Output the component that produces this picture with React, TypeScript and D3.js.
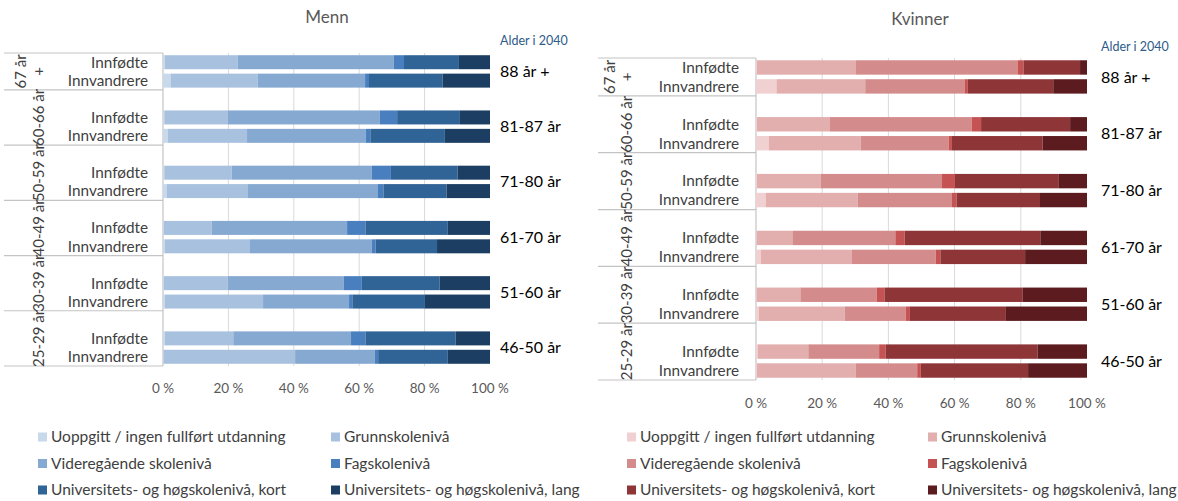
import React from "react";
import * as d3 from "d3";

const categories = [
  "Uoppgitt / ingen fullført utdanning",
  "Grunnskolenivå",
  "Videregående skolenivå",
  "Fagskolenivå",
  "Universitets- og høgskolenivå, kort",
  "Universitets- og høgskolenivå, lang",
];
const ageGroups = [["67 år", "+"], ["60-66 år"], ["50-59 år"], ["40-49 år"], ["30-39 år"], ["25-29 år"]];
const ages2040 = ["88 år +", "81-87 år", "71-80 år", "61-70 år", "51-60 år", "46-50 år"];
const origins = ["Innfødte", "Innvandrere"];
const ticks = [0, 20, 40, 60, 80, 100];

// Menn: per age group, [Innfødte, Innvandrere], each 6 category shares (%)
const menn = [
  [[0.5, 22.4, 47.7, 3.1, 16.8, 9.5], [2.3, 26.7, 32.8, 1.2, 22.5, 14.5]],
  [[0.4, 19.3, 46.6, 5.3, 19.2, 9.2], [1.5, 24.2, 36.3, 1.4, 22.8, 13.8]],
  [[0.4, 20.6, 42.8, 5.9, 20.4, 9.9], [1.1, 24.9, 39.6, 1.8, 19.3, 13.3]],
  [[0.3, 14.6, 41.4, 5.6, 25.2, 12.9], [0.5, 26.1, 37.2, 1.2, 18.8, 16.2]],
  [[0.3, 19.5, 35.5, 5.5, 23.8, 15.4], [0.5, 30.1, 26.3, 1.0, 22.2, 19.9]],
  [[0.5, 21.0, 36.0, 4.4, 27.6, 10.5], [0.2, 40.2, 24.4, 1.0, 21.3, 12.9]],
];
const kvinner = [
  [[0.3, 29.9, 48.8, 1.8, 17.1, 2.1], [6.2, 26.8, 30.0, 1.0, 25.8, 10.2]],
  [[0.3, 21.9, 43.0, 2.8, 26.9, 5.1], [3.9, 27.7, 26.6, 1.0, 27.4, 13.4]],
  [[0.3, 19.2, 36.7, 3.9, 31.4, 8.5], [2.9, 27.8, 28.5, 1.4, 25.2, 14.2]],
  [[0.2, 10.8, 31.1, 2.8, 41.0, 14.1], [1.5, 27.5, 25.3, 1.4, 25.6, 18.7]],
  [[0.2, 13.2, 23.1, 2.3, 41.8, 19.4], [0.9, 25.9, 18.4, 1.3, 29.0, 24.5]],
  [[0.5, 15.3, 21.4, 2.0, 45.9, 14.9], [0.3, 29.8, 18.6, 1.1, 32.4, 17.8]],
];

const blues = ["#c8d9eb", "#a8c1de", "#86a9d1", "#4a7fbf", "#316496", "#1c3e62"];
const reds = ["#f0d0d0", "#e2aeae", "#d48b8b", "#c65353", "#8e3538", "#5c1b1f"];

const FONT = "Lato, 'Open Sans', sans-serif";

type PanelProps = {
  title: string;
  data: number[][][];
  colors: string[];
  boxX: number;
  x0: number;
  x1: number;
  top: number;
  bottom: number;
  titleX: number;
  titleY: number;
  ageX: number;
  alderY: number;
  tickY: number;
  rotX: number;
  rotX1: number;
  originX: number;
  legendX: number[];
};

function Panel(p: PanelProps) {
  const x = d3.scaleLinear().domain([0, 100]).range([p.x0, p.x1]);
  const slots: string[] = [];
  ageGroups.forEach((_, g) => {
    if (g > 0) slots.push(`s${g}`);
    origins.forEach((_, o) => slots.push(`b${g}-${o}`));
  });
  const y = d3.scaleBand<string>().domain(slots).range([p.top, p.bottom]).paddingInner(0).paddingOuter(0);
  const bw = y.bandwidth();
  const barH = bw * 0.76;
  const stack = d3.stack<number[]>().keys(categories.map((_, i) => String(i))).value((d, k) => d[+k]);

  const groupTop = (g: number) => (g === 0 ? p.top : (y(`s${g}`) as number));
  const groupBottom = (g: number) => (g === ageGroups.length - 1 ? p.bottom : groupTop(g + 1));

  return (
    <g fontFamily={FONT}>
      <text x={p.titleX} y={p.titleY} textAnchor="middle" fontSize={17} fill="#595959">
        {p.title}
      </text>
      {ticks.slice(1, -1).map((t) => (
        <line key={t} x1={x(t)} x2={x(t)} y1={p.top} y2={p.bottom} stroke="#d9d9d9" strokeWidth={1} />
      ))}
      {ageGroups.map((_, g) => (
        <line key={g} x1={p.boxX} x2={p.x0} y1={groupTop(g)} y2={groupTop(g)} stroke="#c4c4c4" strokeWidth={1.2} />
      ))}
      <line x1={p.boxX} x2={p.x0} y1={p.bottom} y2={p.bottom} stroke="#c4c4c4" strokeWidth={1.2} />
      <line x1={p.x0} x2={p.x0} y1={p.top} y2={p.bottom} stroke="#c4c4c4" strokeWidth={1.2} />
      {p.data.map((grp, g) =>
        grp.map((row, o) => {
          const series = stack([row]);
          const yy = (y(`b${g}-${o}`) as number) + (bw - barH) / 2;
          return (
            <g key={`${g}-${o}`}>
              {series.map((s, i) => (
                <rect key={i} x={x(s[0][0])} y={yy} width={Math.max(0, x(s[0][1]) - x(s[0][0]))} height={barH} fill={p.colors[i]} />
              ))}
              <text x={p.originX} y={yy + barH / 2} dy="0.35em" textAnchor="end" fontSize={15.3} fill="#404040">
                {origins[o]}
              </text>
            </g>
          );
        })
      )}
      {ageGroups.map((lab, g) => {
        const cy = (groupTop(g) + groupBottom(g)) / 2;
        if (lab.length === 2) {
          return (
            <g key={g}>
              <text transform={`translate(${p.rotX1},${cy}) rotate(-90)`} textAnchor="middle" dy="0.35em" fontSize={15} fill="#404040">
                {lab[0]}
              </text>
              <text transform={`translate(${p.rotX},${cy}) rotate(-90)`} textAnchor="middle" dy="0.35em" fontSize={15} fill="#404040">
                {lab[1]}
              </text>
            </g>
          );
        }
        return (
          <text key={g} transform={`translate(${p.rotX},${cy}) rotate(-90)`} textAnchor="middle" dy="0.35em" fontSize={15} fill="#404040">
            {lab[0]}
          </text>
        );
      })}
      <text x={p.ageX} y={p.alderY} dy="0.35em" fontSize={12.5} fill="#2e5c8a">
        Alder i 2040
      </text>
      {ages2040.map((a, g) => {
        const cy = ((y(`b${g}-0`) as number) + (y(`b${g}-1`) as number) + bw) / 2;
        return (
          <text key={a} x={p.ageX} y={cy} dy="0.35em" fontSize={16} fill="#000">
            {a}
          </text>
        );
      })}
      {ticks.map((t) => (
        <text key={t} x={x(t)} y={p.tickY} dy="0.35em" textAnchor="middle" fontSize={13.5} fill="#595959">
          {`${t}\u00a0%`}
        </text>
      ))}
      {categories.map((c, i) => {
        const col = i % 2;
        const row = Math.floor(i / 2);
        const lx = p.legendX[col];
        const ly = 437 + row * 26.5;
        return (
          <g key={c}>
            <rect x={lx} y={ly - 4.5} width={9} height={9} fill={p.colors[i]} />
            <text x={lx + 13} y={ly} dy="0.35em" fontSize={15.5} fill="#404040">
              {c}
            </text>
          </g>
        );
      })}
    </g>
  );
}

export default function App() {
  return (
    <svg width={1178} height={501} style={{ position: "absolute", left: 0, top: 0, background: "#fff" }}>
      <rect width={1178} height={501} fill="#fff" />
      <Panel
        title="Menn"
        data={menn}
        colors={blues}
        boxX={4}
        x0={163}
        x1={490}
        top={53}
        bottom={366}
        titleX={327}
        titleY={23}
        ageX={500}
        alderY={41}
        tickY={388}
        rotX={39}
        rotX1={21}
        originX={148}
        legendX={[38, 331]}
      />
      <Panel
        title="Kvinner"
        data={kvinner}
        colors={reds}
        boxX={598}
        x0={756}
        x1={1087}
        top={58}
        bottom={380}
        titleX={920}
        titleY={25}
        ageX={1101}
        alderY={47}
        tickY={403}
        rotX={627}
        rotX1={610}
        originX={739}
        legendX={[627, 928]}
      />
    </svg>
  );
}
